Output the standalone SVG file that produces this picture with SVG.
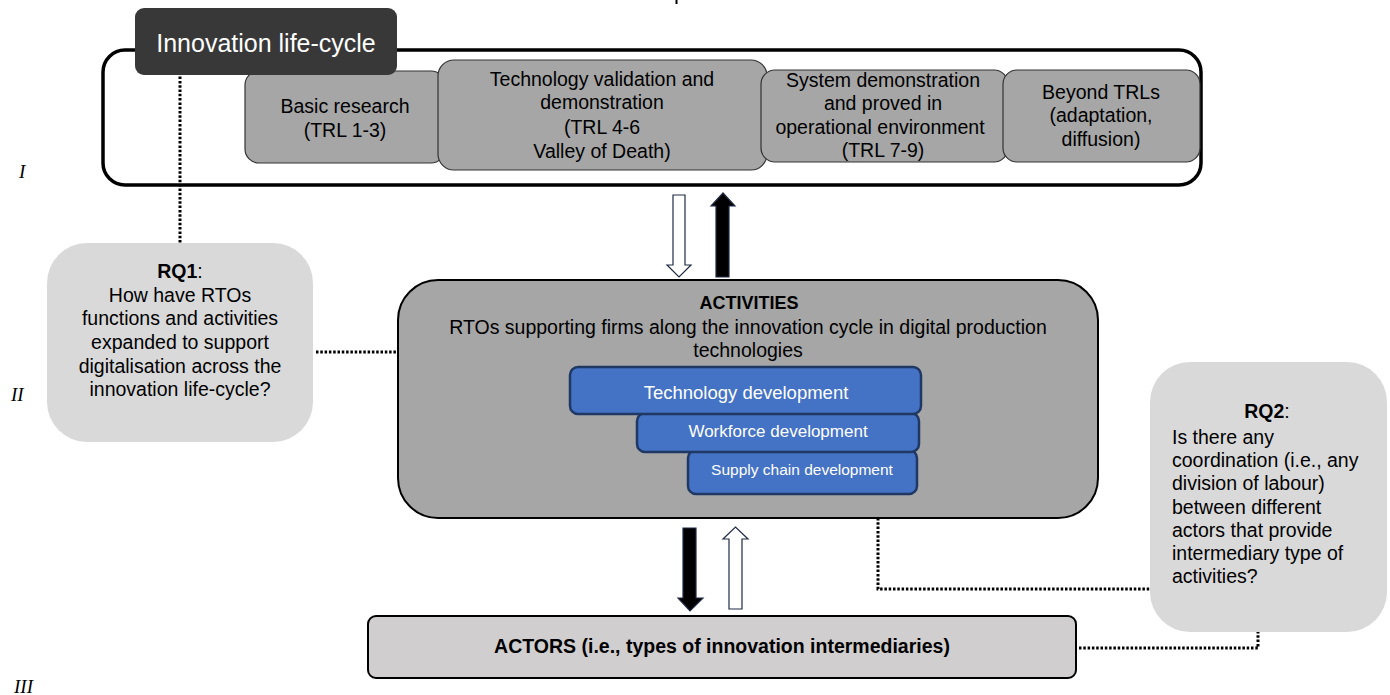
<svg xmlns="http://www.w3.org/2000/svg" width="1390" height="695" viewBox="0 0 1390 695">
<style>
  .t{font-family:"Liberation Sans",Arial,sans-serif;fill:#000}
  .st{font-family:"Liberation Sans",Arial,sans-serif;fill:#000;font-size:19.5px}
  .stage{fill:#a6a6a6;stroke:#333;stroke-width:1.2}
  .blue{fill:#4472c4;stroke:#1f3864;stroke-width:2.5}
  .wt{font-family:"Liberation Sans",Arial,sans-serif;fill:#fff}
  .rq{fill:#d9d9d9}
  .dot{fill:none;stroke:#000;stroke-width:3;stroke-dasharray:2.5 1.8}
  .rom{font-family:"Liberation Serif","Times New Roman",serif;font-style:italic;font-size:19px;fill:#000}
  .arF{fill:#000;stroke:#1f2a44;stroke-width:1.2}
  .arH{fill:#fff;stroke:#1f2a44;stroke-width:1.2}
</style>
<rect width="1390" height="695" fill="#fff"/>
<rect x="675.5" y="0" width="2" height="4" fill="#000"/>

<g id="roman">
  <text class="rom" x="19" y="178">I</text>
  <text class="rom" x="11" y="401">II</text>
  <text class="rom" x="14" y="693">III</text>
</g>

<g id="lifecycle-frame">
  <rect x="103" y="50" width="1098" height="135" rx="22" fill="#fff" stroke="#000" stroke-width="3.5"/>
</g>

<g id="connectors">
  <path class="dot" d="M180 68 V243"/>
  <path class="dot" d="M316 352 H398"/>
  <path class="dot" d="M878 518 V589 H1150"/>
  <path class="dot" d="M1079 648 H1258 V632"/>
  <path class="arH" d="M673 195 H685 V265 H691 L679 277 L667 265 H673 Z"/>
  <path class="arF" d="M716 277 V206 H711 L723 193 L735 206 H729 V277 Z"/>
  <path class="arF" d="M683 528 H696 V598 H703 L690 611 L678 598 H683 Z"/>
  <path class="arH" d="M729 609 V539 H723 L735.5 527 L748 539 H742 V609 Z"/>
</g>

<g id="basic-research">
  <rect class="stage" x="245" y="71" width="200" height="92" rx="14"/>
  <text class="st" text-anchor="middle"><tspan x="345" y="113">Basic research</tspan><tspan x="345" y="137">(TRL 1-3)</tspan></text>
</g>
<g id="tech-validation">
  <rect class="stage" x="438" y="60" width="329" height="110" rx="16"/>
  <text class="st" text-anchor="middle"><tspan x="602" y="86">Technology validation and</tspan><tspan x="602" y="109">demonstration</tspan><tspan x="602" y="134">(TRL 4-6</tspan><tspan x="602" y="158">Valley of Death)</tspan></text>
</g>
<g id="system-demo">
  <rect class="stage" x="761" y="70" width="247" height="92" rx="14"/>
  <text class="st" text-anchor="middle"><tspan x="883" y="87">System demonstration</tspan><tspan x="883" y="110">and proved in</tspan><tspan x="880" y="134">operational environment</tspan><tspan x="883" y="157">(TRL 7-9)</tspan></text>
</g>
<g id="beyond-trls">
  <rect class="stage" x="1003" y="70" width="197" height="92" rx="14"/>
  <text class="st" text-anchor="middle"><tspan x="1101" y="99">Beyond TRLs</tspan><tspan x="1101" y="122">(adaptation,</tspan><tspan x="1101" y="146">diffusion)</tspan></text>
</g>

<g id="innovation-life-cycle">
  <rect x="135" y="8" width="262" height="67" rx="9" fill="#383838"/>
  <text class="wt" x="266" y="52" font-size="25" text-anchor="middle">Innovation life-cycle</text>
</g>

<g id="rq1">
  <rect class="rq" x="47" y="243" width="266" height="199" rx="40"/>
  <text class="t" font-size="19.5" text-anchor="middle"><tspan x="180" y="278"><tspan font-weight="bold">RQ1</tspan>:</tspan><tspan x="180" y="302">How have RTOs</tspan><tspan x="180" y="325">functions and activities</tspan><tspan x="180" y="349">expanded to support</tspan><tspan x="180" y="373">digitalisation across the</tspan><tspan x="180" y="396">innovation life-cycle?</tspan></text>
</g>

<g id="activities">
  <rect x="398" y="280" width="700" height="238" rx="40" fill="#a6a6a6" stroke="#000" stroke-width="2"/>
  <text class="t" text-anchor="middle"><tspan x="749" y="309" font-size="18" font-weight="bold">ACTIVITIES</tspan><tspan x="748" y="334" font-size="19.5">RTOs supporting firms along the innovation cycle in digital production</tspan><tspan x="748" y="357" font-size="19.5">technologies</tspan></text>
</g>

<g id="supply-chain-development">
  <rect class="blue" x="688" y="450" width="229" height="44" rx="8"/>
  <text class="wt" x="802" y="475" font-size="15.5" text-anchor="middle">Supply chain development</text>
</g>
<g id="workforce-development">
  <rect class="blue" x="637" y="413" width="282" height="39" rx="8"/>
  <text class="wt" x="778" y="437" font-size="17" text-anchor="middle">Workforce development</text>
</g>
<g id="technology-development">
  <rect class="blue" x="570" y="367" width="351" height="47" rx="8"/>
  <text class="wt" x="746" y="399" font-size="18.5" text-anchor="middle">Technology development</text>
</g>

<g id="rq2">
  <rect class="rq" x="1150" y="362" width="237" height="270" rx="40"/>
  <text class="t" font-size="19.5"><tspan x="1267" y="418" text-anchor="middle"><tspan font-weight="bold">RQ2</tspan>:</tspan><tspan x="1172" y="444">Is there any</tspan><tspan x="1172" y="467">coordination (i.e., any</tspan><tspan x="1172" y="490">division of labour)</tspan><tspan x="1172" y="514">between different</tspan><tspan x="1172" y="537">actors that provide</tspan><tspan x="1172" y="560">intermediary type of</tspan><tspan x="1172" y="583">activities?</tspan></text>
</g>

<g id="actors">
  <rect x="368" y="616" width="708" height="62" rx="8" fill="#d0cece" stroke="#000" stroke-width="2"/>
  <text class="t" x="722" y="653" font-size="19.5" font-weight="bold" text-anchor="middle">ACTORS (i.e., types of innovation intermediaries)</text>
</g>
</svg>
